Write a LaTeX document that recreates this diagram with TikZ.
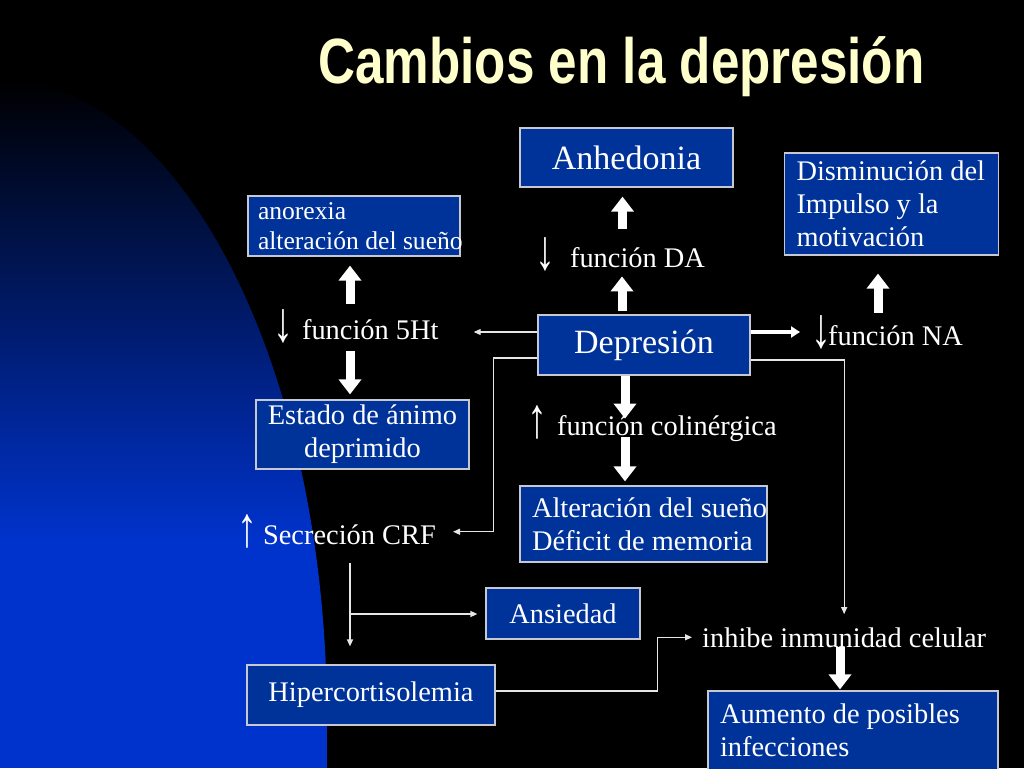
\documentclass[tikz,border=0pt]{standalone}
\usepackage{graphicx}
\usepackage{fontspec}
\setmainfont{Liberation Serif}
\newfontfamily\titlefont{Liberation Sans}[FakeStretch=0.8]
\usetikzlibrary{arrows.meta}
\definecolor{cajaazul}{RGB}{0,51,153}
\definecolor{borde}{RGB}{200,200,210}
\definecolor{fondoazul}{RGB}{0,51,204}
\definecolor{titulo}{RGB}{255,255,204}
\definecolor{linea}{RGB}{230,230,230}
\newcommand\flechabaja{\raisebox{-0.1em}{\scalebox{1.4}[2]{↓}}}
\newcommand\flechasube{\raisebox{-0.1em}{\scalebox{1.4}[2]{↑}}}
\begin{document}
\begin{tikzpicture}[x=1pt,y=-1pt,
    caja/.style={draw=borde,fill=cajaazul,text=white,line width=1.2pt,inner sep=0pt},
    grande/.style={font=\fontsize{34}{40}\selectfont},
    media/.style={font=\fontsize{28.4}{33}\selectfont},
    chica/.style={font=\fontsize{25.6}{29.5}\selectfont},
    texto/.style={text=white,inner sep=0pt,anchor=base west,font=\fontsize{28.4}{33}\selectfont},
    flechota/.style={white,line width=9pt,-{Triangle[width=22pt,length=15pt]}},
    flechamedia/.style={white,line width=3.5pt,-{Triangle[width=11pt,length=9pt]}},
    flecha/.style={linea,line width=1.3pt,-{Triangle[width=6pt,length=7pt]}}]
  \clip (0,0) rectangle (1024,768);
  \fill[black] (0,0) rectangle (1024,768);
  \begin{scope}
    \clip (0,768) -- (0,80)
      arc[start angle=90,end angle=0,x radius=327pt,y radius=640pt] -- (327,768) -- cycle;
    \shade[top color=black,bottom color=fondoazul] (0,80) rectangle (327,540);
    \fill[fondoazul] (0,539) rectangle (327,768);
  \end{scope}
  \node[text=titulo,font=\titlefont\bfseries\fontsize{64}{70}\selectfont,anchor=base] (titulo) at (621.5,83) {Cambios en la depresión};
  \node[caja,grande,minimum width=213pt,minimum height=59pt] (anh) at (626.5,157.5) {Anhedonia};
  \node[caja,media,text width=190pt,align=flush left,inner xsep=12pt,minimum height=102pt] (dis) at (891.5,204) {Disminución del\\Impulso y la\\motivación};
  \node[caja,chica,text width=192pt,align=flush left,inner xsep=10pt,minimum height=60pt] (ano) at (354,226) {anorexia\\\mbox{alteración del sueño}};
  \node[caja,grande,minimum width=212pt,minimum height=60pt] (dep) at (644,345) {Depresión};
  \node[caja,media,align=center,minimum width=213pt,minimum height=69pt] (est) at (362.5,434.5) {Estado de ánimo\\deprimido};
  \node[caja,media,text width=223pt,align=flush left,inner xsep=12pt,minimum height=76pt] (alt) at (643.5,524) {\mbox{Alteración del sueño}\\Déficit de memoria};
  \node[caja,media,minimum width=154pt,minimum height=51pt] (ans) at (563,613.5) {Ansiedad};
  \node[caja,media,minimum width=248pt,minimum height=60pt] (hip) at (371,695) {Hipercortisolemia};
  \node[caja,media,text width=266pt,align=flush left,inner xsep=12pt,minimum height=79pt] (aum) at (853,730.5) {Aumento de posibles\\infecciones};
  \node[texto] (da) at (535,267) {\flechabaja\hspace{15pt}función DA};
  \node[texto] (cinco) at (273,339) {\flechabaja\hspace{9pt}función 5Ht};
  \node[texto] (na) at (811,345) {\flechabaja\hspace{-3pt}función NA};
  \node[texto] (col) at (527,435) {\flechasube\hspace{10pt}función colinérgica};
  \node[texto] (crf) at (237,544) {\flechasube\hspace{6pt}Secreción CRF};
  \node[texto] (inh) at (702,647) {inhibe inmunidad celular};
  \coordinate (crfbaja) at (350,563);
  \coordinate (rama) at (350,614);
  \draw[flechota] ([xshift=-4pt,yshift=-41pt]anh.south) -- ([xshift=-4pt,yshift=-9pt]anh.south);
  \draw[flechota] ([xshift=-22pt,yshift=3pt]dep.north) -- ([xshift=-22pt,yshift=38pt]dep.north);
  \draw[flechota] ([xshift=-13.5pt,yshift=-57pt]dis.south) -- ([xshift=-13.5pt,yshift=-18pt]dis.south);
  \draw[flechota] ([xshift=-4pt,yshift=-47pt]ano.south) -- ([xshift=-4pt,yshift=-9pt]ano.south);
  \draw[flechota] ([xshift=-12.5pt,yshift=48pt]est.north) -- ([xshift=-12.5pt,yshift=5pt]est.north);
  \draw[flechota] ([xshift=-19pt]dep.south) -- ([xshift=-19pt,yshift=-43pt]dep.south);
  \draw[flechota] ([xshift=-18.5pt,yshift=48pt]alt.north) -- ([xshift=-18.5pt,yshift=4pt]alt.north);
  \draw[flechota] ([xshift=-13pt,yshift=43pt]aum.north) -- ([xshift=-13pt,yshift=1pt]aum.north);
  \draw[flechamedia,shorten >=11pt] ([yshift=13pt]dep.east) -- ([yshift=13pt]dep.east -| na.west);
  \draw[flecha,shorten >=35pt] ([yshift=13pt]dep.west) -- ([yshift=13pt]dep.west -| cinco.east);
  \draw[flecha,shorten >=17pt] ([yshift=-13pt]dep.west) -- ++(-44,0) |- (crf.east);
  \draw[flecha,shorten >=13pt] ([yshift=-15pt]dep.east) -| (inh.north);
  \draw[flecha,shorten >=18pt] (crfbaja) -- (crfbaja |- hip.north);
  \draw[flecha,shorten >=8pt] (rama) -- (rama -| ans.west);
  \draw[flecha,shorten >=10pt] ([yshift=4pt]hip.east) -- ++(162,0) |- (inh.west);
\end{tikzpicture}
\end{document}
